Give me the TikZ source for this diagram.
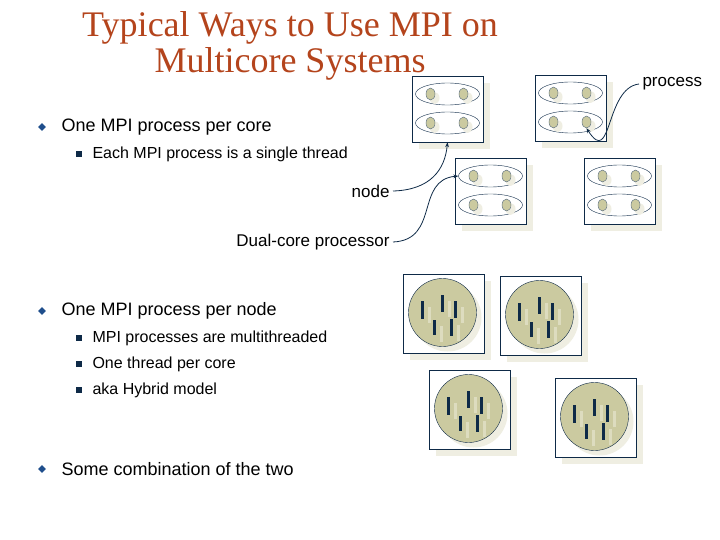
\documentclass[tikz,border=0pt]{standalone}
\usepackage{fontspec}
\setmainfont{Liberation Sans}
\newfontfamily\titlefont{Liberation Serif}
\usetikzlibrary{calc,arrows.meta,shapes.geometric}
\definecolor{titlered}{HTML}{B4441C}
\definecolor{navy}{HTML}{0E2A47}
\definecolor{bullblue}{HTML}{1F4E8C}
\definecolor{boxshade}{HTML}{EFEEE2}
\definecolor{olive}{HTML}{CBCAA0}
\definecolor{palebar}{HTML}{DDDCBF}
\def\BoxW{71}
\def\BoxH{66}
\def\NodeW{81}
\def\NodeH{79}
\tikzset{
  bigbox/.style={draw=navy, fill=white, minimum width=\BoxW pt, minimum height=\BoxH pt, inner sep=0pt},
  nodebox/.style={draw=navy, fill=white, minimum width=\NodeW pt, minimum height=\NodeH pt, inner sep=0pt},
  proc/.style={draw=navy, ellipse, minimum width=64pt, minimum height=22pt, inner sep=0pt},
  core/.style={draw=navy!70, fill=olive, ellipse, minimum width=9pt, minimum height=12pt, inner sep=0pt},
  bullet/.style={font=\fontsize{18}{20}\selectfont, anchor=west},
  subitem/.style={font=\fontsize{16}{18}\selectfont, anchor=west},
  lbl/.style={font=\fontsize{17}{20}\selectfont, anchor=east},
  link/.style={navy, thick, -{Stealth[length=5pt]}},
}
% dual-core processor box: #1 name, #2 lower left corner
\newcommand\CoreBox[2]{
  \fill[boxshade] ($(#2)+(7,7)$) rectangle +(\BoxW,-\BoxH);
  \node[bigbox] (#1) at ($(#2)+(\BoxW/2,-\BoxH/2)$) {};
  \foreach \r/\dy in {a/-15, b/14} {
    \node[proc] (#1\r) at ($(#1)+(0,\dy)$) {};
    \fill[boxshade] ($(#1\r)+(-13,4)$) ellipse (5 and 6);
    \fill[boxshade] ($(#1\r)+(20,4)$) ellipse (5 and 6);
    \node[core] (#1\r1) at ($(#1\r)+(-17,0)$) {};
    \node[core] (#1\r2) at ($(#1\r)+(16,0)$) {};
  }
}
% multithreaded process box
\newcommand\ThreadBox[2]{
  \fill[boxshade] ($(#2)+(7,7)$) rectangle +(\NodeW,-\NodeH);
  \node[nodebox] (#1) at ($(#2)+(\NodeW/2,-\NodeH/2)$) {};
  \fill[boxshade] ($(#1)+(4,4)$) circle (34);
  \node[circle, draw=navy, fill=olive, minimum size=68pt, inner sep=0pt] (#1c) at ($(#1)+(-1,-1)$) {};
  \foreach \dx/\ya/\yb in {-20/-12/6, -8/7/22, 0/-18/-1, 13/-12/5, 9/6/23} {
    \fill[palebar] ($(#1c)+(\dx+5,\ya+6)$) rectangle +(3,16);
    \fill[navy] ($(#1c)+(\dx-1.5,\ya)$) rectangle ($(#1c)+(\dx+1.5,\yb)$);
  }
}
\begin{document}
\begin{tikzpicture}[x=1pt,y=-1pt]
  \useasboundingbox (0,0) rectangle (720,540);
  % title
  \node[titlered, font=\titlefont\fontsize{36}{36}\selectfont, align=center] (title) at (290,46)
    {Typical Ways to Use MPI on\\Multicore Systems};
  % text
  \node[bullet] (b1) at (58,127) {One MPI process per core};
  \node[subitem] (s1) at (89,154) {Each MPI process is a single thread};
  \node[bullet] (b2) at (58,311) {One MPI process per node};
  \node[subitem] (s2) at (89,338) {MPI processes are multithreaded};
  \node[subitem] (s3) at (89,364) {One thread per core};
  \node[subitem] (s4) at (89,390) {aka Hybrid model};
  \node[bullet] (b3) at (58,469) {Some combination of the two};
  \foreach \b in {b1,b2,b3}
    \node[diamond, fill=bullblue, inner sep=2pt] at ($(\b.west)+(-16,0)$) {};
  \foreach \s in {s1,s2,s3,s4}
    \fill[navy] ($(\s.west)+(-13,-3)$) rectangle +(6,6);
  % dual-core boxes
  \coordinate (p1) at (412,142);
  \coordinate (p2) at (535,141);
  \coordinate (p3) at (455,224);
  \coordinate (p4) at (584,224);
  \CoreBox{c1}{p1}
  \CoreBox{c2}{p2}
  \CoreBox{c3}{p3}
  \CoreBox{c4}{p4}
  % multithreaded boxes
  \coordinate (q1) at (403,353);
  \coordinate (q2) at (500,355);
  \coordinate (q3) at (429,449);
  \coordinate (q4) at (555,457);
  \ThreadBox{t1}{q1}
  \ThreadBox{t2}{q2}
  \ThreadBox{t3}{q3}
  \ThreadBox{t4}{q4}
  % labels
  \node[lbl] (node) at (393,191) {node};
  \node[lbl] (dual) at (393,242) {Dual-core processor};
  \node[lbl, anchor=west] (process) at (639,84) {process};
  \draw[link] (node.east) .. controls (430,190) and (445,170) .. (c1.south);
  \draw[link] (dual.east) .. controls (440,240) and (415,180) .. (c3a.west);
  \draw[link] (process.west) .. controls (605,88) and (612,168) .. (c2b2.south);
\end{tikzpicture}
\end{document}
